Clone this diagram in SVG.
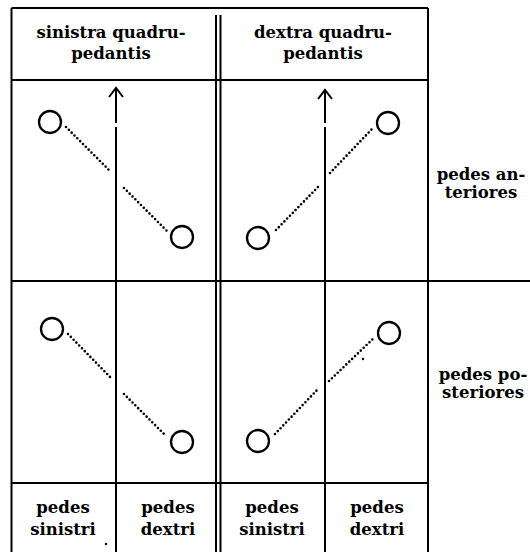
<svg xmlns="http://www.w3.org/2000/svg" width="530" height="552" viewBox="0 0 530 552">
<style>
.ln{stroke:#000;stroke-width:2;fill:none}
.dot{stroke:#000;stroke-width:2.6;fill:none;stroke-dasharray:0 4;stroke-linecap:round}
.c{stroke:#000;stroke-width:2.3;fill:#fff}
text{font-family:"DejaVu Serif","Liberation Serif",serif;font-weight:bold;font-size:16.5px;fill:#000;text-anchor:middle}
</style>
<rect width="530" height="552" fill="#fff"/>
<g id="frame">
<path class="ln" d="M11.5 8H428M11.5 8V552M428 8V552M11.5 80H428M11.5 281H530M11.5 483H428"/>
<path class="ln" stroke-width="1.6" d="M216 15V552M220.5 15V552"/>
<path class="ln" d="M116 281V552M325 281V552"/>
</g>
<g id="connectors">
<path class="ln" d="M116 280V127M116 123V89M109 97L116 88L123 97"/>
<path class="ln" d="M325 280V127M325 123V91M318 99L325 90L332 99"/>
<path class="dot" d="M66 127L110 171M124 188L167 231"/>
<path class="dot" d="M276 230L318 187M330 173L372 129"/>
<path class="dot" d="M68 334L112 379M124 394L166 436"/>
<path class="dot" d="M275 434L319 388M329 381L375 337"/>
<circle cx="363" cy="359" r="1.2" fill="#000"/>
<circle cx="106" cy="544" r="1.2" fill="#000"/>
</g>
<g id="n-ul"><circle class="c" cx="50" cy="122" r="11"/></g>
<g id="n-ur"><circle class="c" cx="182" cy="237" r="11"/></g>
<g id="n-rul"><circle class="c" cx="258" cy="238" r="11"/></g>
<g id="n-rur"><circle class="c" cx="388" cy="123" r="11"/></g>
<g id="n-ll"><circle class="c" cx="52" cy="329" r="11"/></g>
<g id="n-lr"><circle class="c" cx="182" cy="442" r="11"/></g>
<g id="n-rll"><circle class="c" cx="258" cy="441" r="11"/></g>
<g id="n-rlr"><circle class="c" cx="389" cy="333" r="11"/></g>
<g id="labels">
<text x="111" y="38">sinistra quadru-</text>
<text x="111" y="59">pedantis</text>
<text x="323" y="38">dextra quadru-</text>
<text x="323" y="59">pedantis</text>
<text x="481" y="180">pedes an-</text>
<text x="481" y="198">teriores</text>
<text x="483" y="380">pedes po-</text>
<text x="483" y="398">steriores</text>
<text x="63" y="513">pedes</text>
<text x="63" y="535">sinistri</text>
<text x="168" y="513">pedes</text>
<text x="168" y="535">dextri</text>
<text x="272" y="513">pedes</text>
<text x="272" y="535">sinistri</text>
<text x="377" y="513">pedes</text>
<text x="377" y="535">dextri</text>
</g>
</svg>
